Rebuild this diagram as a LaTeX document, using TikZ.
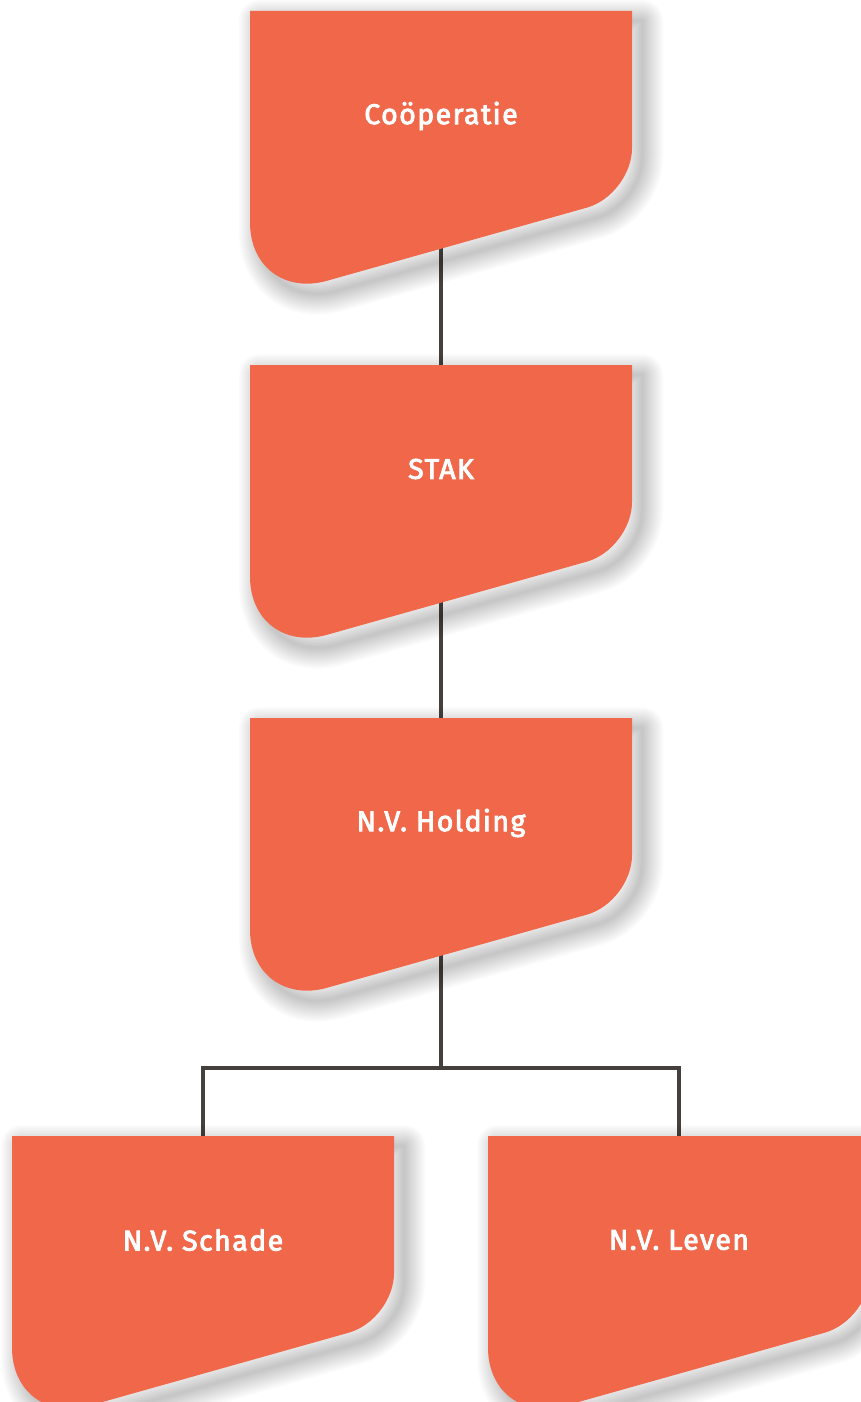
\documentclass[tikz,border=0pt]{standalone}
\usepackage{fontspec}
\setmainfont{Fira Sans}
\newfontfamily\lblfont{Fira Sans}[FakeBold=3, LetterSpace=5]
\pgfdeclarelayer{bg}
\pgfsetlayers{bg,main}
\definecolor{boxfill}{HTML}{F06749}
\definecolor{linecol}{HTML}{46403C}
\tikzset{
  x=1pt, y=-1pt,
  conn/.style={draw=linecol, line width=4.5pt},
  label/.style={text=white, font=\lblfont\fontsize{28.5}{30}\selectfont, inner sep=0pt},
  pics/orgbox/.style={code={
    \foreach \w in {3,6,...,42} {
      \path[draw=black, draw opacity=0.016, line width=\w pt, line join=round, shift={(10,10)}]
        (0,0) -- (382,0) -- (382,137)
        .. controls (382,163) and (361.6,189.7) .. (336.7,196.7)
        -- (77,269.8)
        .. controls (34.6,281.7) and (0,255.5) .. (0,211.5) -- cycle;
    }
    \path[fill=boxfill] (0,0) -- (382,0) -- (382,137)
      .. controls (382,163) and (361.6,189.7) .. (336.7,196.7)
      -- (77,269.8)
      .. controls (34.6,281.7) and (0,255.5) .. (0,211.5) -- cycle;
  }}
}
\begin{document}
\begin{tikzpicture}
\useasboundingbox (0,0) rectangle (860,1402);
\begin{pgfonlayer}{bg}
\fill[white] (0,0) rectangle (860,1402);
\end{pgfonlayer}
\pic at (250,11) {orgbox};
\pic at (250,365) {orgbox};
\pic at (250,718) {orgbox};
\pic at (12,1136) {orgbox};
\pic at (488,1136) {orgbox};
\node[label] (coop) at (441,116) {Coöperatie};
\node[label] (stak) at (441,469) {STAK};
\node[label] (hold) at (441,823) {N.V. Holding};
\node[label] (schade) at (203,1240) {N.V. Schade};
\node[label] (leven) at (679,1240) {N.V. Leven};
\coordinate (junc) at (441,1068);
\begin{pgfonlayer}{bg}
\draw[conn] (coop) -- (stak);
\draw[conn] (stak) -- (hold);
\draw[conn] (hold) -- (junc);
\draw[conn] (schade) |- (junc) -| (leven);
\end{pgfonlayer}
\end{tikzpicture}
\end{document}
